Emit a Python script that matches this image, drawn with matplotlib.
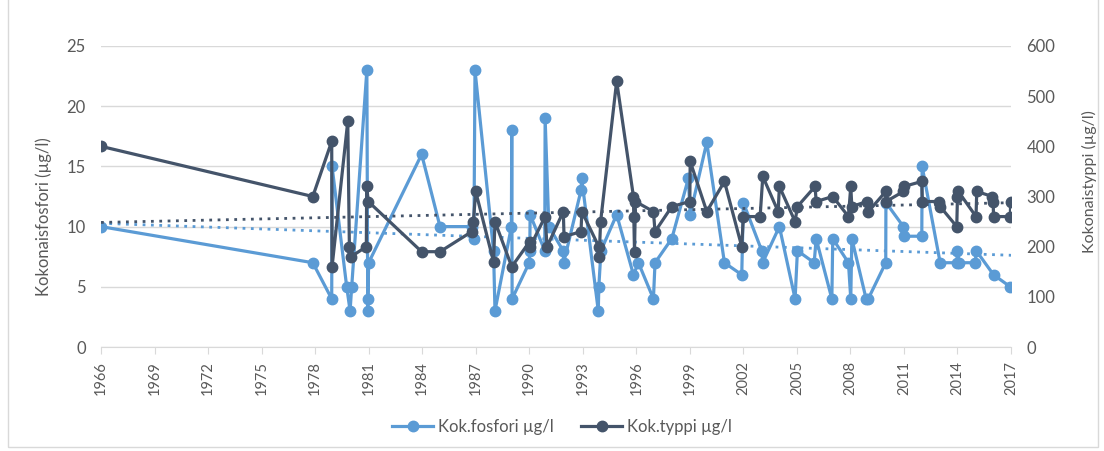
import numpy as np
import matplotlib
matplotlib.use('Agg')
from matplotlib import pyplot as plt
from matplotlib.patches import Rectangle

plt.rcParams['font.family'] = ['Lato', 'DejaVu Sans']

# Kok.fosfori (µg/l), sample dates as decimal years
p_year = [1966.0, 1977.87, 1978.93, 1978.95, 1979.77, 1979.96, 1980.05, 1980.9, 1980.95, 1980.96,
          1981.0, 1983.97, 1985.0, 1986.78, 1986.9, 1986.96, 1988.0, 1988.08, 1989.0, 1989.02,
          1989.04, 1990.0, 1990.03, 1990.05, 1990.87, 1990.89, 1991.1, 1991.9, 1991.93, 1992.9,
          1992.94, 1993.87, 1993.9, 1994.02, 1994.9, 1995.84, 1996.12, 1996.96, 1997.05, 1997.99,
          1998.92, 1999.02, 1999.95, 2000.94, 2001.91, 2002.0, 2003.03, 2003.08, 2004.02, 2004.9,
          2005.03, 2005.97, 2006.08, 2006.96, 2007.01, 2007.89, 2008.02, 2008.08, 2008.88, 2009.0,
          2009.98, 2009.99, 2010.97, 2011.0, 2012.0, 2012.02, 2013.03, 2013.96, 2014.0, 2014.1,
          2015.0, 2015.05, 2016.02, 2016.96]
p_val = [10, 7, 4, 15, 5, 3, 5, 23, 3, 4,
         7, 16, 10, 10, 9, 23, 8, 3, 10, 18,
         4, 7, 8, 11, 8, 19, 10, 8, 7, 13,
         14, 3, 5, 8, 11, 6, 7, 4, 7, 9,
         14, 11, 17, 7, 6, 12, 8, 7, 10, 4,
         8, 7, 9, 4, 9, 7, 4, 9, 4, 4,
         7, 12, 10, 9.2, 9.2, 15, 7, 7, 8, 7,
         7, 8, 6, 5]

# Kok.typpi (µg/l)
n_year = [1966.0, 1977.87, 1978.93, 1978.95, 1979.83, 1979.92, 1980.01, 1980.87, 1980.89, 1980.98,
          1983.97, 1985.0, 1986.78, 1986.87, 1987.0, 1988.0, 1988.08, 1989.02, 1990.02, 1990.05,
          1990.89, 1991.0, 1991.91, 1991.95, 1992.9, 1992.95, 1993.9, 1993.92, 1994.0, 1994.9,
          1995.84, 1995.86, 1995.9, 1995.95, 1996.96, 1997.05, 1997.99, 1999.0, 1999.02, 1999.95,
          2000.94, 2001.91, 2002.0, 2002.94, 2003.09, 2003.95, 2004.02, 2004.9, 2005.03, 2006.02,
          2006.08, 2007.01, 2007.89, 2008.02, 2008.08, 2008.92, 2009.01, 2009.98, 2010.0, 2010.97,
          2011.0, 2012.0, 2012.03, 2012.99, 2013.03, 2013.96, 2014.0, 2014.05, 2015.04, 2015.08,
          2015.96, 2016.0, 2016.02, 2016.96, 2016.98]
n_val = [400, 300, 410, 160, 450, 200, 180, 200, 320, 290,
         190, 190, 230, 250, 310, 170, 250, 160, 210, 200,
         260, 200, 270, 220, 230, 270, 200, 180, 250, 530,
         300, 260, 190, 290, 270, 230, 280, 290, 370, 270,
         330, 200, 260, 260, 340, 270, 320, 250, 280, 320,
         290, 300, 260, 320, 280, 290, 270, 310, 290, 310,
         320, 330, 290, 290, 280, 240, 300, 310, 260, 310,
         300, 290, 260, 260, 290]

year_ticks = list(range(1966, 2018, 3))

c_p = '#5B9BD5'
c_n = '#44546A'
txt = '#595959'

fig = plt.figure(figsize=(11.04, 4.51), dpi=100)
ax = fig.add_axes([101/1104, 1-347/451, 910/1104, 301/451])
ax2 = ax.twinx()

ax.plot(p_year, p_val, color=c_p, lw=2.3, marker='o', ms=7.5, label='Kok.fosfori µg/l', zorder=3)
ax2.plot(n_year, n_val, color=c_n, lw=2.3, marker='o', ms=7.5, label='Kok.typpi µg/l', zorder=3)

# linear trendlines
xs = np.array([1966, 2017])
kp = np.polyfit(p_year, p_val, 1)
kn = np.polyfit(n_year, n_val, 1)
ax.plot(xs, np.polyval(kp, xs), color=c_p, lw=2, ls=(0, (1, 2)), zorder=4)
ax2.plot(xs, np.polyval(kn, xs), color=c_n, lw=2, ls=(0, (1, 2)), zorder=4)

ax.set_xlim(1966, 2017)
ax.set_ylim(0, 25)
ax.set_yticks(range(0, 26, 5))
ax2.set_ylim(0, 600)
ax2.set_yticks(range(0, 601, 100))
ax.set_xticks(year_ticks)
ax.set_xticklabels([str(y) for y in year_ticks], rotation=90)

ax.grid(axis='y', color='#D9D9D9', lw=1)
ax.set_axisbelow(True)
for a in (ax, ax2):
    for s in a.spines.values():
        s.set_visible(False)
ax.spines['bottom'].set_visible(True)
ax.spines['bottom'].set_color('#D9D9D9')
ax.tick_params(axis='x', colors=txt, labelsize=10.5, length=5, color='#D9D9D9', pad=5)
ax.tick_params(axis='y', colors=txt, labelsize=12, length=0, pad=11)
ax2.tick_params(axis='y', colors=txt, labelsize=12, length=0, pad=11)

ax.set_ylabel('Kokonaisfosfori (µg/l)', color=txt, fontsize=12)
ax2.set_ylabel('Kokonaistyppi (µg/l)', color=txt, fontsize=11.5, rotation=90)
ax.yaxis.set_label_coords(-0.054, 0.432)
ax2.yaxis.set_label_coords(1.078, 0.551)

h1, l1 = ax.get_legend_handles_labels()
h2, l2 = ax2.get_legend_handles_labels()
fig.legend(h1 + h2, l1 + l2, loc='center', bbox_to_anchor=(562/1104, 1-427/451), ncol=2,
           frameon=False, fontsize=12, labelcolor=txt, handlelength=2.5, columnspacing=1.6,
           handletextpad=0.3)

fig.patches.append(Rectangle((8/1104, 4/451), 1090/1104, 460/451, transform=fig.transFigure,
                             fill=False, edgecolor='#D9D9D9', lw=1))

fig.savefig('out.png', dpi=100)
